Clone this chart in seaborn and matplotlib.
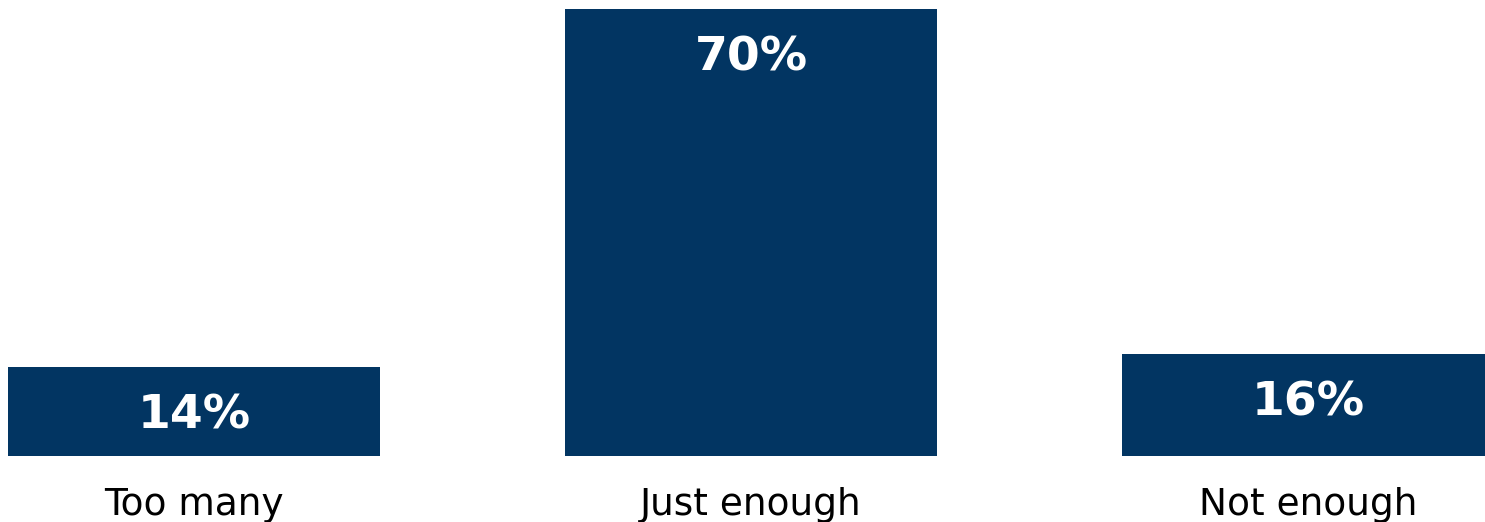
import matplotlib
matplotlib.use("Agg")
import matplotlib.pyplot as plt
import seaborn as sns
import pandas as pd

categories = ["Too many", "Just enough", "Not enough"]
values = [14, 70, 16]
value_labels = ["14%", "70%", "16%"]

sns.set_theme(style="white")
plt.rcParams['font.family'] = ['DejaVu Sans']

W, H = 1485, 522
fig = plt.figure(figsize=(W / 100, H / 100), dpi=100)
ax_bottom = (H - 456) / H
ax_top = (H - 9) / H
ax = fig.add_axes([0, ax_bottom, 1, ax_top - ax_bottom])

df = pd.DataFrame({"cat": categories, "val": values})
sns.barplot(data=df, x="cat", y="val", color="#023562", saturation=1,
            width=0.668, ax=ax, order=categories, linewidth=0)

ax.set_xlim(-194 / 557, (1485 - 194) / 557)
ax.set_ylim(0, 70)
ax.set_xlabel("")
ax.set_ylabel("")
ax.set_yticks([])
for s in ax.spines.values():
    s.set_visible(False)
ax.tick_params(axis="x", length=0, pad=22, labelsize=27, labelcolor="black")

for i, (v, lab) in enumerate(zip(values, value_labels)):
    ax.annotate(lab, xy=(i, v), xytext=(0, -49 * 72 / 100), textcoords="offset points",
                ha="center", va="center", color="white", fontsize=34, fontweight="bold")

fig.savefig("out.png", dpi=100)
